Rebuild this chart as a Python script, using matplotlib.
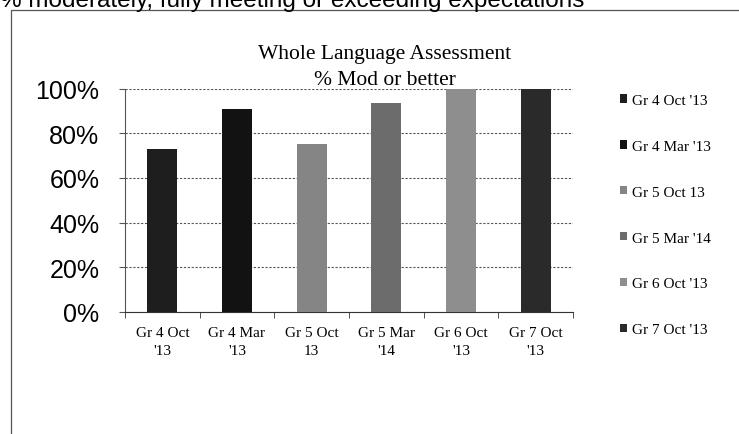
import matplotlib.pyplot as plt
from matplotlib.patches import Rectangle
from matplotlib.ticker import FuncFormatter, FixedLocator

# Data
categories = ["Gr 4 Oct\n'13", "Gr 4 Mar\n'13", "Gr 5 Oct\n13",
              "Gr 5 Mar\n'14", "Gr 6 Oct\n'13", "Gr 7 Oct\n'13"]
legend_labels = ["Gr 4 Oct '13", "Gr 4 Mar '13", "Gr 5 Oct 13",
                 "Gr 5 Mar '14", "Gr 6 Oct '13", "Gr 7 Oct '13"]
values = [0.73, 0.91, 0.75, 0.935, 1.00, 1.00]
bar_colors = ["#1e1e1e", "#121212", "#858585", "#6c6c6c", "#8e8e8e", "#2a2a2a"]
yticks = [0, 0.2, 0.4, 0.6, 0.8, 1.0]

W, H = 739, 435


def main():
    fig = plt.figure(figsize=(W / 100, H / 100), dpi=100)
    fig.patch.set_facecolor('white')

    # header text, cut at the top edge like in the scan
    fig.text(0.0, 1 - 6.5 / H, "% moderately, fully meeting or exceeding expectations",
             family='Liberation Sans', fontsize=17.5, ha='left', va='baseline')

    # thin frame around the chart area
    fig.patches.append(Rectangle((11 / W, -0.01), 1.0, 1 - 11 / H + 0.01,
                                 transform=fig.transFigure, fill=False,
                                 edgecolor='#555555', linewidth=0.9))

    # chart title, centred on the chart area
    fig.text(385 / W, 1 - 59 / H, "Whole Language Assessment",
             family='Liberation Serif', fontsize=15.5, ha='center', va='baseline')
    fig.text(385 / W, 1 - 85 / H, "% Mod or better",
             family='Liberation Serif', fontsize=15.5, ha='center', va='baseline')

    top, bottom = 89.5, 313
    ax = fig.add_axes([125 / W, 1 - bottom / H, 448 / W, (bottom - top) / H])
    x = list(range(len(categories)))
    for i in x:
        ax.bar(i, values[i], width=0.4, color=bar_colors[i],
               label=legend_labels[i], zorder=3)

    ax.set_xlim(-0.5, len(categories) - 0.5)
    ax.set_ylim(0, 1.0)
    ax.yaxis.set_major_locator(FixedLocator(yticks))
    ax.yaxis.set_major_formatter(FuncFormatter(lambda v, p: f"{v * 100:.0f}%"))
    ax.grid(axis='y', color='#555555', linestyle=(0, (2, 1.5)), linewidth=0.8, zorder=0)
    for lab in ax.get_yticklabels():
        lab.set_family('Liberation Sans')
        lab.set_fontsize(18)
    ax.tick_params(axis='y', length=4.5, direction='out', color='#555555', pad=14)

    ax.set_xticks(x)
    ax.set_xticklabels(categories, family='Liberation Serif', fontsize=11,
                       linespacing=1.5)
    ax.set_xticks([i - 0.5 for i in range(len(categories) + 1)], minor=True)
    ax.tick_params(axis='x', which='major', length=0, pad=10)
    ax.tick_params(axis='x', which='minor', length=4, direction='out', color='#333333')

    for side in ['top', 'right']:
        ax.spines[side].set_visible(False)
    ax.spines['left'].set_color('#555555')
    ax.spines['bottom'].set_color('#333333')

    ax.legend(loc='upper left', bbox_to_anchor=(620 / W, 1 - 95 / H),
              bbox_transform=fig.transFigure, frameon=False,
              prop={'family': 'Liberation Serif', 'size': 11},
              handlelength=0.45, handleheight=0.45, handletextpad=0.35,
              labelspacing=2.15, borderaxespad=0, borderpad=0)

    fig.savefig('out.png', dpi=100, facecolor='white')
    plt.close(fig)


if __name__ == "__main__":
    main()
